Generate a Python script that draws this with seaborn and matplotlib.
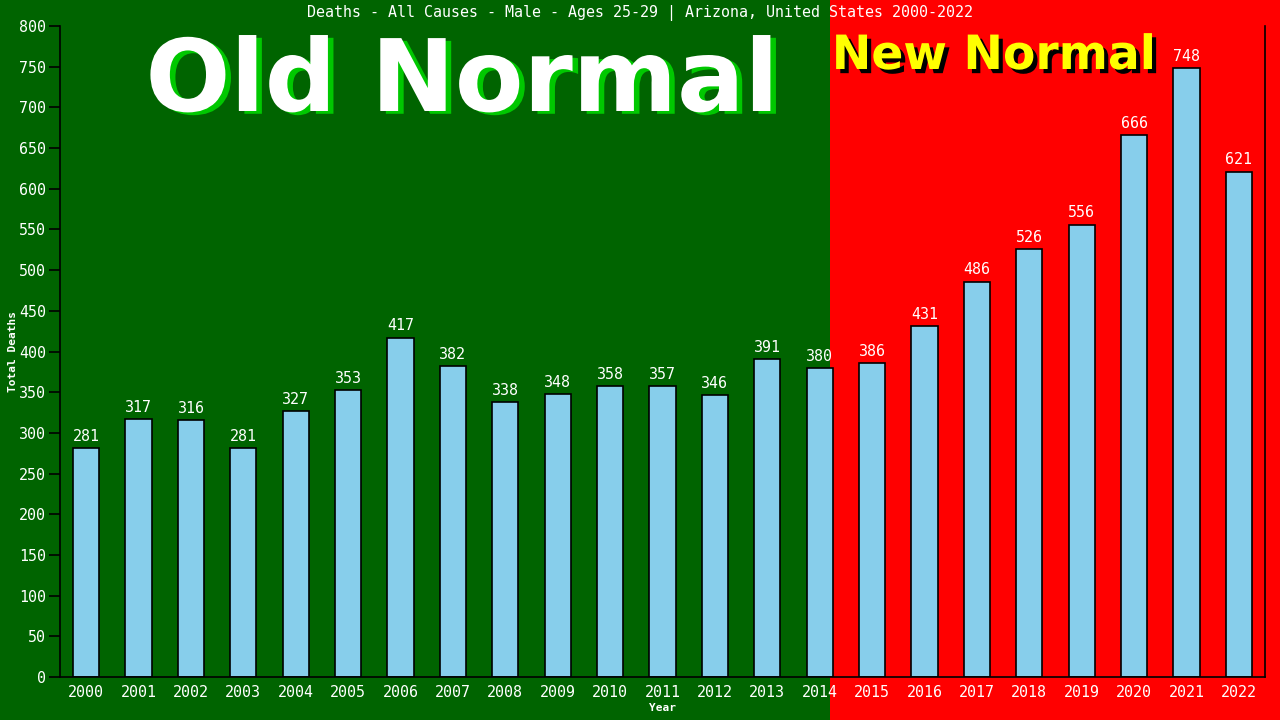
import matplotlib
matplotlib.use('Agg')
import matplotlib.pyplot as plt
import matplotlib.patheffects as pe
import pandas as pd
import seaborn as sns

# data
years = [str(y) for y in range(2000, 2023)]
deaths = [281, 317, 316, 281, 327, 353, 417, 382, 338, 348, 358, 357, 346,
          391, 380, 386, 431, 486, 526, 556, 666, 748, 621]
y_ticks = list(range(0, 801, 50))

title = "Deaths - All Causes - Male - Ages 25-29 | Arizona, United States 2000-2022"

sns.set_theme(style='white')
plt.rcParams['font.family'] = ['DejaVu Sans Mono', 'DejaVu Sans']

df = pd.DataFrame({'Year': years, 'Total Deaths': deaths})

fig = plt.figure(figsize=(12.8, 7.2), dpi=100)
fig.patch.set_facecolor('#006400')

# red "new normal" background on the right part of the figure
fig.patches.append(plt.Rectangle((830 / 1280, 0), 1 - 830 / 1280, 1,
                                 transform=fig.transFigure, facecolor='#ff0000',
                                 edgecolor='none', zorder=-5))

ax = fig.add_axes([60 / 1280, 1 - 677 / 720, 1205 / 1280, 651 / 720])
ax.set_facecolor('none')

sns.barplot(data=df, x='Year', y='Total Deaths', color='#87ceeb', width=0.5,
            saturation=1, edgecolor='black', linewidth=1.2, ax=ax)

# value labels
ax.bar_label(ax.containers[0], color='white', fontsize=10.8, padding=3)

ax.set_xlim(-0.5, len(years) - 0.5)
ax.set_ylim(0, 800)
ax.set_yticks(y_ticks)
ax.tick_params(axis='y', colors='black', labelcolor='white', labelsize=10.8,
               length=8, width=1.2, left=True, direction='out', pad=2)
ax.tick_params(axis='x', labelcolor='white', labelsize=10.8, length=0, pad=6)

ax.spines['top'].set_visible(False)
for side in ['left', 'right', 'bottom']:
    ax.spines[side].set_visible(True)
    ax.spines[side].set_color('black')
    ax.spines[side].set_linewidth(1.2)

ax.set_xlabel('Year', color='white', fontsize=8, fontweight='bold')
ax.set_ylabel('Total Deaths', color='white', fontsize=8, fontweight='bold')
ax.xaxis.set_label_coords(0.5, (677 - 703) / 651)
ax.yaxis.set_label_coords((18 - 60) / 1205, 0.5)

fig.text(0.5, 1 - 13 / 720, title, color='white', fontsize=10.8,
         ha='center', va='center')

fig.text(462 / 1280, 1 - 111 / 720, 'Old Normal', family='DejaVu Sans',
         fontweight='bold', fontsize=72, color='white', ha='center', va='baseline',
         path_effects=[pe.withSimplePatchShadow(offset=(4, -2), shadow_rgbFace='#00c800', alpha=1)])

fig.text(994 / 1280, 1 - 69 / 720, 'New Normal', family='DejaVu Sans',
         fontweight='bold', fontsize=34, color='#ffff00', ha='center', va='baseline',
         path_effects=[pe.withSimplePatchShadow(offset=(3, -3), shadow_rgbFace='black', alpha=1)])

fig.savefig('out.png', dpi=100, facecolor=fig.get_facecolor())
